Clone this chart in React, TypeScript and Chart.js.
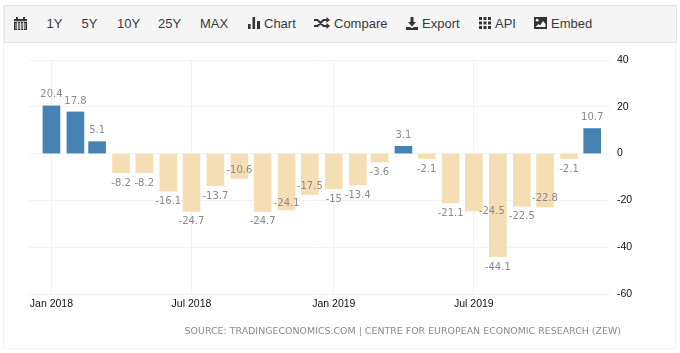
import React, { useEffect, useRef } from "react";
import { Chart, registerables } from "chart.js";

Chart.register(...registerables);

const months = [
  "2018-01-01", "2018-02-01", "2018-03-01", "2018-04-01", "2018-05-01", "2018-06-01",
  "2018-07-01", "2018-08-01", "2018-09-01", "2018-10-01", "2018-11-01", "2018-12-01",
  "2019-01-01", "2019-02-01", "2019-03-01", "2019-04-01", "2019-05-01", "2019-06-01",
  "2019-07-01", "2019-08-01", "2019-09-01", "2019-10-01", "2019-11-01", "2019-12-01",
];
const values = [
  20.4, 17.8, 5.1, -8.2, -8.2, -16.1, -24.7, -13.7, -10.6, -24.7, -24.1, -17.5,
  -15, -13.4, -3.6, 3.1, -2.1, -21.1, -24.5, -44.1, -22.5, -22.8, -2.1, 10.7,
];
const tickDates = ["2018-01-01", "2018-07-01", "2019-01-01", "2019-07-01"];
const tickLabels = ["Jan 2018", "Jul 2018", "Jan 2019", "Jul 2019"];
const yTicks = [-60, -40, -20, 0, 20, 40];
const ranges = ["1Y", "5Y", "10Y", "25Y", "MAX"];
const source = "SOURCE: TRADINGECONOMICS.COM | CENTRE FOR EUROPEAN ECONOMIC RESEARCH (ZEW)";

const toDay = (d: string) => (Date.parse(d) - Date.parse("2018-01-01")) / 86400000;

// Label displacement from the default spot, where the source chart moved a label to avoid overlap.
const labelShift: Record<number, [number, number]> = {
  8: [0, -18.5],
  10: [0, -17.5],
  11: [0, -18.5],
  18: [18, -10.5],
  21: [0, -19],
};

const valueLabels = {
  id: "valueLabels",
  afterDatasetsDraw(chart: any) {
    const ctx = chart.ctx;
    const meta = chart.getDatasetMeta(0);
    ctx.save();
    ctx.font = "10px 'DejaVu Sans'";
    ctx.fillStyle = "#8a8a8a";
    ctx.textAlign = "center";
    ctx.textBaseline = "middle";
    meta.data.forEach((bar: any, i: number) => {
      const v = values[i];
      const [dx, dy] = labelShift[i] || [0, 0];
      const y = v >= 0 ? bar.y - 11 : bar.y + 10.5;
      ctx.fillText(String(v), bar.x + dx, y + dy);
    });
    ctx.restore();
  },
};

const iconStyle: React.CSSProperties = { position: "absolute", top: 17, display: "block" };

function Label({ x, children }: { x: number; children: React.ReactNode }) {
  return (
    <span style={{ position: "absolute", left: x, top: 16, lineHeight: "16px", whiteSpace: "nowrap" }}>
      {children}
    </span>
  );
}

export default function App() {
  const ref = useRef<HTMLCanvasElement>(null);

  useEffect(() => {
    const chart = new Chart(ref.current!, {
      type: "bar",
      data: {
        datasets: [
          {
            data: months.map((m, i) => ({ x: toDay(m), y: values[i] })),
            backgroundColor: values.map((v) => (v >= 0 ? "#4682b4" : "#f5deb3")),
            barThickness: 17,
          },
        ],
      },
      options: {
        responsive: false,
        animation: false,
        layout: { padding: { left: 29, top: 60, right: 0, bottom: 0 } },
        plugins: { legend: { display: false }, tooltip: { enabled: false } },
        scales: {
          x: {
            type: "linear",
            offset: false,
            min: -29,
            max: 722,
            grid: { offset: false, color: "#f2f2f2", drawTicks: false },
            border: { display: false },
            afterFit(scale: any) {
              scale.height = 59;
            },
            afterBuildTicks(scale: any) {
              scale.ticks = tickDates.map((d) => ({ value: toDay(d) }));
            },
            ticks: {
              autoSkip: false,
              maxRotation: 0,
              padding: 4,
              color: "#111",
              font: { family: "'Liberation Sans'", size: 10.5 },
              callback: (value: any) => tickLabels[tickDates.findIndex((d) => toDay(d) === value)],
            },
          },
          y: {
            position: "right",
            min: -60,
            max: 40,
            grid: { color: "#f2f2f2", drawTicks: false },
            border: { display: false },
            afterFit(scale: any) {
              scale.width = 70;
            },
            afterBuildTicks(scale: any) {
              scale.ticks = yTicks.map((value) => ({ value }));
            },
            ticks: {
              crossAlign: "near",
              padding: 7,
              color: "#111",
              font: { family: "'Liberation Sans'", size: 10.5 },
            },
          },
        },
      } as any,
      plugins: [valueLabels],
    });
    return () => chart.destroy();
  }, []);

  const rangeX = [46.5, 81.5, 117, 158, 200];

  return (
    <div style={{ position: "absolute", left: 0, top: 0, width: 680, height: 353, overflow: "hidden", background: "#fff" }}>
      <div style={{ position: "absolute", left: 3, top: 5, width: 673, height: 344, border: "1px solid #f2f2f2", boxSizing: "border-box" }} />
      <canvas ref={ref} width={680} height={353} style={{ position: "absolute", left: 0, top: 0 }} />
      <div
        style={{
          position: "absolute", left: 4, top: 5, width: 673, height: 38, boxSizing: "border-box",
          background: "#f5f5f5", border: "1px solid #e3e3e3",
        }}
      />
      <div style={{ position: "absolute", left: 0, top: 0, width: 680, height: 43, font: "13px 'Liberation Sans'", color: "#3a3a3a" }}>
        <svg width="13" height="13" viewBox="0 0 13 13" style={{ ...iconStyle, left: 14 }}>
          <path fill="#333" d="M0 2h2V0h2v2h5V0h2v2h2v11H0z" />
          <path stroke="#f5f5f5" strokeWidth="0.8" d="M0 4.4h13M1 7h11M1 9h11M1 11h11M3.5 5v8M6.5 5v8M9.5 5v8" />
        </svg>
        {ranges.map((r, i) => (
          <Label key={r} x={rangeX[i]}>{r}</Label>
        ))}
        <svg width="12" height="12" viewBox="0 0 12 12" style={{ ...iconStyle, left: 248 }}>
          <path fill="#333" d="M0 7h2.6v5H0zM4.5 0h2.6v12H4.5zM9 4h3v8H9z" />
        </svg>
        <Label x={264}>Chart</Label>
        <svg width="16" height="12" viewBox="0 0 16 12" style={{ ...iconStyle, left: 314 }}>
          <path fill="none" stroke="#333" strokeWidth="2" d="M0 3h3.5l6 6H13M0 9h3.5l6-6H13" />
          <path fill="#333" d="M12.5 0l3.5 3-3.5 3zM12.5 6l3.5 3-3.5 3z" />
        </svg>
        <Label x={334}>Compare</Label>
        <svg width="12" height="13" viewBox="0 0 12 13" style={{ ...iconStyle, left: 406 }}>
          <path fill="#333" d="M4.5 0h3v5H10L6 9.5 2 5h2.5zM0 10h4l2 1.2L8 10h4v3H0z" />
        </svg>
        <Label x={422}>Export</Label>
        <svg width="12" height="12" viewBox="0 0 12 12" style={{ ...iconStyle, left: 479 }}>
          <path fill="#333" d="M0 0h3v3H0zM4.5 0h3v3h-3zM9 0h3v3H9zM0 4.5h3v3H0zM4.5 4.5h3v3h-3zM9 4.5h3v3H9zM0 9h3v3H0zM4.5 9h3v3h-3zM9 9h3v3H9z" />
        </svg>
        <Label x={495}>API</Label>
        <svg width="13" height="12" viewBox="0 0 13 12" style={{ ...iconStyle, left: 534 }}>
          <path fill="#333" d="M0 0h13v12H0z" />
          <circle cx="3.2" cy="3.2" r="1.4" fill="#f5f5f5" />
          <path fill="#f5f5f5" d="M1.5 10l3-3 1.5 1.5L9 4l2.5 3v3z" />
        </svg>
        <Label x={551}>Embed</Label>
      </div>
      <div
        style={{
          position: "absolute", right: 59, top: 325, lineHeight: "14px", whiteSpace: "nowrap",
          font: "9.45px 'DejaVu Sans'", color: "#8a8a8a",
        }}
      >
        {source}
      </div>
    </div>
  );
}
